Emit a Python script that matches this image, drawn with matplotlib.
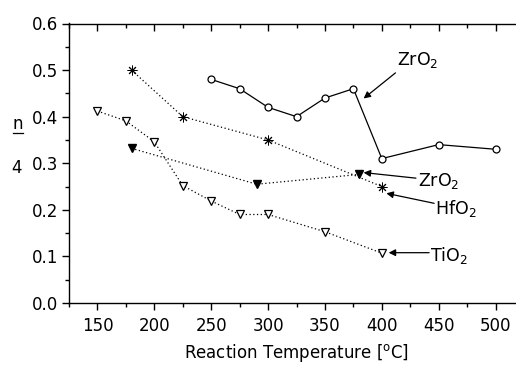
import matplotlib
matplotlib.use("Agg")
import matplotlib.pyplot as plt

plt.rcParams['font.family'] = ['DejaVu Sans']
plt.rcParams['mathtext.fontset'] = 'custom'
plt.rcParams['mathtext.rm'] = 'DejaVu Sans'
plt.rcParams['mathtext.it'] = 'DejaVu Sans:italic'

# data
zr_circ_x = [250, 275, 300, 325, 350, 375, 400, 450, 500]
zr_circ_y = [0.48, 0.46, 0.42, 0.40, 0.44, 0.46, 0.31, 0.34, 0.33]
hf_x = [180, 225, 300, 400]
hf_y = [0.50, 0.40, 0.35, 0.25]
zr_tri_x = [180, 290, 380]
zr_tri_y = [0.332, 0.255, 0.276]
ti_x = [150, 175, 200, 225, 250, 275, 300, 350, 400]
ti_y = [0.412, 0.391, 0.346, 0.252, 0.219, 0.19, 0.19, 0.153, 0.107]

xticks = [150, 200, 250, 300, 350, 400, 450, 500]
yticks = [0.0, 0.1, 0.2, 0.3, 0.4, 0.5, 0.6]

fig = plt.figure(figsize=(5.16, 3.67), dpi=100)
ax = fig.add_axes([69/516, (367-303)/367, 455/516, (303-23.5)/367])

dot = (0, (1, 2))
ax.plot(zr_circ_x, zr_circ_y, '-', color='black', lw=0.9, marker='o', ms=5,
        mfc='white', mec='black', mew=0.9, zorder=3)
ax.plot(hf_x, hf_y, linestyle=dot, color='black', lw=0.9, marker=(8, 2, 0), ms=7,
        mec='black', mew=0.7, zorder=3)
ax.plot(zr_tri_x, zr_tri_y, linestyle=dot, color='black', lw=0.9, marker='v', ms=6,
        mfc='black', mec='black', zorder=3)
ax.plot(ti_x, ti_y, linestyle=dot, color='black', lw=0.9, marker='v', ms=6,
        mfc='white', mec='black', mew=0.9, zorder=3)

ax.set_xlim(125, 525)
ax.set_ylim(0.0, 0.6)
ax.set_xticks(xticks)
ax.set_xticks(list(range(125, 526, 25)), minor=True)
ax.set_yticks(yticks)
ax.set_yticks([i * 0.05 for i in range(13)], minor=True)
ax.set_yticklabels([f"{v:.1f}" for v in yticks])
ax.set_xticklabels([str(v) for v in xticks])
ax.spines['right'].set_visible(False)
for s in ['left', 'bottom', 'top']:
    ax.spines[s].set_linewidth(1.0)
ax.tick_params(axis='both', which='major', direction='out', length=5, width=1.0,
               labelsize=12, pad=3)
ax.tick_params(axis='both', which='minor', direction='out', length=3, width=1.0)
ax.tick_params(axis='x', which='both', top=True)
ax.tick_params(axis='x', which='major', pad=5)
# top ticks inward
for t in ax.xaxis.get_major_ticks() + ax.xaxis.get_minor_ticks():
    t.tick2line.set_marker(matplotlib.lines.TICKDOWN)

ax.set_xlabel(r"Reaction Temperature [$^\mathregular{o}$C]", fontsize=12, labelpad=5)

fig.text(18/516, 1 - 124/367, "n", fontsize=12, ha='center', va='center')
fig.add_artist(matplotlib.lines.Line2D([13/516, 23/516], [1 - 133/367, 1 - 133/367],
                                       color='black', lw=0.9))
fig.text(17/516, 1 - 168/367, "4", fontsize=12, ha='center', va='center')

ap = dict(arrowstyle='-|>', color='black', lw=0.9, mutation_scale=10, shrinkA=0, shrinkB=0)
ax.annotate("", xy=(384, 0.439), xytext=(412, 0.494), arrowprops=ap)
ax.text(413, 0.50, r"ZrO$_2$", fontsize=12.5, ha='left', va='bottom')
ax.annotate("", xy=(384, 0.280), xytext=(430, 0.268), arrowprops=ap)
ax.text(432, 0.262, r"ZrO$_2$", fontsize=12.5, ha='left', va='center')
ax.annotate("", xy=(404, 0.2355), xytext=(446, 0.214), arrowprops=ap)
ax.text(447, 0.202, r"HfO$_2$", fontsize=12.5, ha='left', va='center')
ax.annotate("", xy=(406, 0.108), xytext=(441.6, 0.108), arrowprops=ap)
ax.text(442.5, 0.103, r"TiO$_2$", fontsize=12.5, ha='left', va='center')

fig.savefig("out.png", dpi=100)
